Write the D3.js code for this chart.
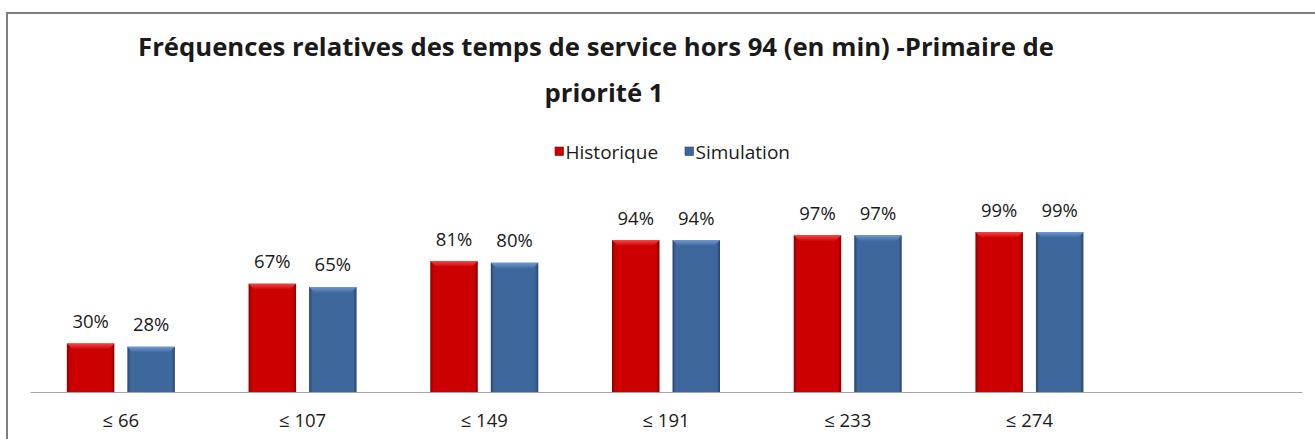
<!DOCTYPE html>
<html>
<head>
<meta charset="utf-8">
<script src="https://cdn.jsdelivr.net/npm/d3@7"></script>
<style>
  html, body { margin: 0; padding: 0; background: #fff; }
  svg { display: block; }
  text { font-family: "Open Sans", "Noto Sans", sans-serif; fill: #1a1a1a; }
</style>
</head>
<body>
<svg id="chart" width="1315" height="439"></svg>
<script>
// Service-time thresholds (minutes); the last slot is an empty category
const categories = ["≤ 66", "≤ 107", "≤ 149", "≤ 191", "≤ 233", "≤ 274", ""];
const seriesNames = ["Historique", "Simulation"];
const historique = [0.30, 0.67, 0.81, 0.94, 0.97, 0.99];
const simulation = [0.28, 0.65, 0.80, 0.94, 0.97, 0.99];
const titleLines = ["Fréquences relatives des temps de service hors 94 (en min) -Primaire de", "priorité 1"];

const palette = {
  Historique: { body: "#cc0000", top: "#f24848", edge: "#860000" },
  Simulation: { body: "#3e679c", top: "#7099d0", edge: "#27456e" }
};

const svg = d3.select("#chart");

// chart frame
svg.append("path")
  .attr("d", "M7,439 L7,13 L1315,13")
  .attr("fill", "none")
  .attr("stroke", "#7f7f7f")
  .attr("stroke-width", 2);

// title
svg.append("text")
  .attr("text-anchor", "middle")
  .attr("font-weight", "bold")
  .attr("font-size", 25.7)
  .selectAll("tspan")
  .data(titleLines)
  .join("tspan")
  .attr("x", (d, i) => i === 0 ? 596 : 604)
  .attr("y", (d, i) => i === 0 ? 56 : 102)
  .text(d => d);

// scales
const x0 = d3.scaleBand().domain(categories).range([30, 1302]).paddingInner(0).paddingOuter(0);
const x1 = d3.scaleBand().domain(seriesNames).range([0, x0.bandwidth()])
  .paddingInner(0.215).paddingOuter(0.609);
const y = d3.scaleLinear().domain([0, 1.2]).range([392, 198.1]);

// gradients for bevelled bars
const defs = svg.append("defs");
seriesNames.forEach(name => {
  const c = palette[name];
  const g = defs.append("linearGradient").attr("id", "side-" + name)
    .attr("x1", 0).attr("x2", 1).attr("y1", 0).attr("y2", 0);
  g.append("stop").attr("offset", 0).attr("stop-color", c.edge);
  g.append("stop").attr("offset", 0.07).attr("stop-color", c.body);
  g.append("stop").attr("offset", 0.93).attr("stop-color", c.body);
  g.append("stop").attr("offset", 1).attr("stop-color", c.edge);
  const t = defs.append("linearGradient").attr("id", "top-" + name)
    .attr("x1", 0).attr("x2", 0).attr("y1", 0).attr("y2", 1);
  t.append("stop").attr("offset", 0).attr("stop-color", c.top);
  t.append("stop").attr("offset", 1).attr("stop-color", c.body);
});

const rows = historique.map((h, i) => ({
  cat: categories[i],
  values: [
    { name: "Historique", value: h },
    { name: "Simulation", value: simulation[i] }
  ]
}));

const groups = svg.append("g").selectAll("g")
  .data(rows)
  .join("g")
  .attr("transform", d => `translate(${x0(d.cat)},0)`);

const bars = groups.selectAll("g.bar")
  .data(d => d.values)
  .join("g")
  .attr("class", "bar");

bars.append("rect")
  .attr("x", d => x1(d.name))
  .attr("y", d => y(d.value))
  .attr("width", x1.bandwidth())
  .attr("height", d => y(0) - y(d.value))
  .attr("fill", d => `url(#side-${d.name})`);

// top bevel
const bevel = 6;
bars.append("path")
  .attr("d", d => {
    const xl = x1(d.name), xr = xl + x1.bandwidth(), yt = y(d.value);
    return `M${xl},${yt} L${xr},${yt} L${xr - bevel},${yt + bevel} L${xl + bevel},${yt + bevel} Z`;
  })
  .attr("fill", d => `url(#top-${d.name})`);

// value labels
bars.append("text")
  .attr("x", d => x1(d.name) + x1.bandwidth() / 2)
  .attr("y", d => y(d.value) - 15.5)
  .attr("text-anchor", "middle")
  .attr("font-size", 18.5)
  .text(d => d3.format(".0%")(d.value));

// category axis
const axis = svg.append("g")
  .attr("transform", "translate(0,392)")
  .call(d3.axisBottom(x0).tickSize(0).tickSizeOuter(0));
axis.select(".domain").attr("stroke", "#a6a6a6").attr("stroke-width", 1.2);
axis.selectAll(".tick text")
  .attr("y", 34.7)
  .attr("dy", 0)
  .attr("font-size", 18.5)
  .attr("font-family", "'Open Sans', sans-serif")
  .attr("fill", "#1a1a1a");

// legend
const legend = svg.append("g");
const legendX = [555, 685];
seriesNames.forEach((name, i) => {
  legend.append("rect")
    .attr("x", legendX[i]).attr("y", 147)
    .attr("width", 8.5).attr("height", 8.5)
    .attr("fill", palette[name].body)
    .attr("stroke", palette[name].edge).attr("stroke-width", 0.6);
  legend.append("text")
    .attr("x", legendX[i] + 10.5).attr("y", 158.5)
    .attr("font-size", 19)
    .text(name);
});
</script>
</body>
</html>
